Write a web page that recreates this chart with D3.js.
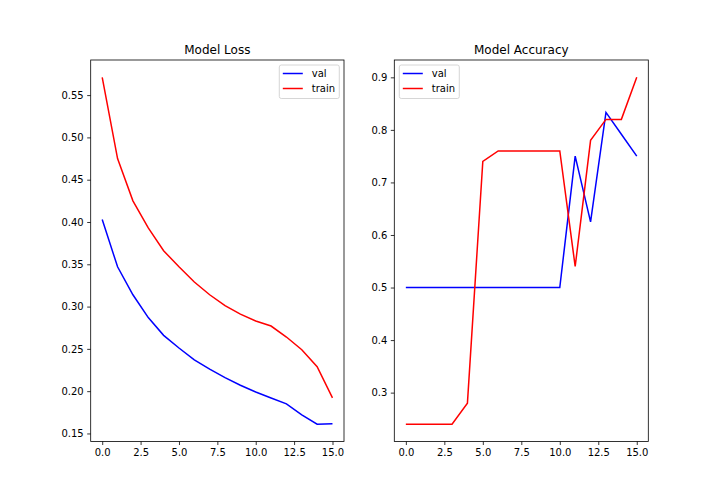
<!DOCTYPE html>
<html>
<head>
<meta charset="utf-8">
<script src="https://cdn.jsdelivr.net/npm/d3@7"></script>
<style>
  body { margin: 0; background: #fff; }
  text { font-family: "DejaVu Sans", sans-serif; fill: #000; }
</style>
</head>
<body>
<svg id="fig" width="720" height="504"></svg>
<script>
// epochs 0..15
var epochs = d3.range(16)

var lossVal = [0.403, 0.347, 0.314, 0.287, 0.266, 0.251, 0.237, 0.226,
               0.216, 0.207, 0.199, 0.192, 0.185, 0.172, 0.161, 0.1615]
var lossTrain = [0.571, 0.475, 0.425, 0.393, 0.366, 0.347, 0.329, 0.314,
                 0.301, 0.291, 0.283, 0.277, 0.264, 0.249, 0.229, 0.192]

var accVal = [0.5, 0.5, 0.5, 0.5, 0.5, 0.5, 0.5, 0.5,
              0.5, 0.5, 0.5, 0.75, 0.625, 0.8333, 0.7917, 0.75]
var accTrain = [0.24, 0.24, 0.24, 0.24, 0.28, 0.74, 0.76, 0.76,
                0.76, 0.76, 0.76, 0.54, 0.78, 0.82, 0.82, 0.90]

var xTicks = [0, 2.5, 5, 7.5, 10, 12.5, 15]
var lossTicks = [0.15, 0.20, 0.25, 0.30, 0.35, 0.40, 0.45, 0.50, 0.55]
var accTicks = [0.3, 0.4, 0.5, 0.6, 0.7, 0.8, 0.9]

var svg = d3.select("#fig")
var plotTop = 60, plotBottom = 441.5

// matplotlib style 5% margins on data range
function padded(arrs) {
    var all = [].concat.apply([], arrs)
    var lo = d3.min(all), hi = d3.max(all), r = hi - lo
    return [lo - 0.05 * r, hi + 0.05 * r]
}

function drawPanel(opts) {
    var x = d3.scaleLinear().domain([-0.75, 15.75]).range([opts.left, opts.right])
    var y = d3.scaleLinear().domain(padded([opts.val, opts.train])).range([plotBottom, plotTop])

    var g = svg.append("g")

    var xAxis = d3.axisBottom(x).tickValues(xTicks).tickSize(3.5).tickPadding(3.5)
        .tickFormat(d3.format(".1f"))
    var yAxis = d3.axisLeft(y).tickValues(opts.yTicks).tickSize(3.5).tickPadding(3.5)
        .tickFormat(d3.format(opts.yFmt))

    var gx = g.append("g").attr("transform", "translate(0," + plotBottom + ")").call(xAxis)
    var gy = g.append("g").attr("transform", "translate(" + opts.left + ",0)").call(yAxis)
    ;[gx, gy].forEach(function(a) {
        a.select(".domain").remove()
        a.selectAll("line").attr("stroke", "#000").attr("stroke-width", 0.8)
        a.selectAll("text").attr("font-size", 10).attr("fill", "#000")
            .style("font-family", "DejaVu Sans, sans-serif")
    })

    var line = d3.line()
        .x(function(d, i) { return x(epochs[i]) })
        .y(function(d) { return y(d) })

    g.append("path").datum(opts.val).attr("d", line)
        .attr("fill", "none").attr("stroke", "blue").attr("stroke-width", 1.5)
    g.append("path").datum(opts.train).attr("d", line)
        .attr("fill", "none").attr("stroke", "red").attr("stroke-width", 1.5)

    // frame
    g.append("rect")
        .attr("x", opts.left).attr("y", plotTop)
        .attr("width", opts.right - opts.left).attr("height", plotBottom - plotTop)
        .attr("fill", "none").attr("stroke", "#000").attr("stroke-width", 0.8)

    g.append("text")
        .attr("x", (opts.left + opts.right) / 2).attr("y", 54)
        .attr("text-anchor", "middle").attr("font-size", 12)
        .text(opts.title)

    // legend
    var lx = opts.legendX, lw = 60
    var lg = g.append("g")
    lg.append("rect")
        .attr("x", lx).attr("y", 65).attr("width", lw).attr("height", 33.5)
        .attr("rx", 2).attr("fill", "#fff").attr("fill-opacity", 0.8)
        .attr("stroke", "#ccc").attr("stroke-width", 0.8)
    var items = [{name: "val", color: "blue"}, {name: "train", color: "red"}]
    items.forEach(function(it, i) {
        var cy = 73.5 + i * 15
        lg.append("line")
            .attr("x1", lx + 3.5).attr("x2", lx + 23.5)
            .attr("y1", cy).attr("y2", cy)
            .attr("stroke", it.color).attr("stroke-width", 1.5)
        lg.append("text")
            .attr("x", lx + 32.5).attr("y", cy + 3.6)
            .attr("font-size", 10).text(it.name)
    })
}

drawPanel({
    left: 90.7, right: 344, title: "Model Loss",
    val: lossVal, train: lossTrain,
    yTicks: lossTicks, yFmt: ".2f", legendX: 279.3
})

drawPanel({
    left: 394.3, right: 648.3, title: "Model Accuracy",
    val: accVal, train: accTrain,
    yTicks: accTicks, yFmt: ".1f", legendX: 399.3
})
</script>
</body>
</html>
